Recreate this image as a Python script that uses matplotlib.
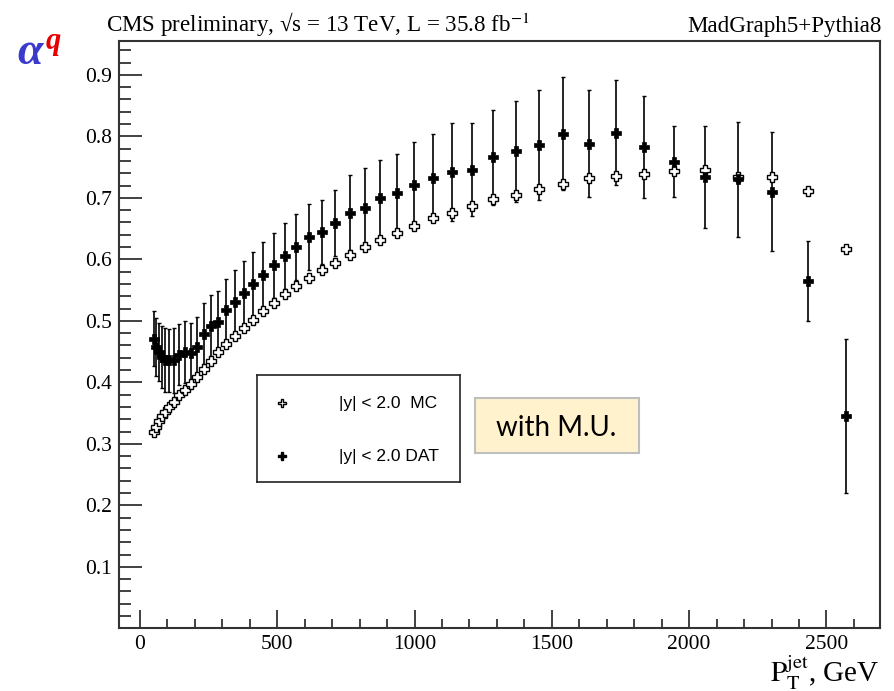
import matplotlib
matplotlib.use('Agg')
import matplotlib.pyplot as plt
from matplotlib.patches import Rectangle
from matplotlib.ticker import MultipleLocator

# ---- data ----
pt = [52.5, 60, 69, 79, 90.5, 105.5, 123.5, 143, 163.5, 185, 208, 232.5, 258.5,
      286, 315, 346, 378.5, 412.5, 449, 487.5, 527.5, 570, 615, 662, 711.5, 763.5,
      818, 875.5, 936, 999.5, 1066.5, 1136.5, 1210, 1287.5, 1368.5, 1453.5, 1542.5,
      1636, 1734, 1837, 1945, 2058, 2177, 2302, 2433, 2570]

mc = [0.319, 0.328, 0.337, 0.345, 0.352, 0.360, 0.368, 0.379, 0.388, 0.398, 0.408,
      0.421, 0.434, 0.449, 0.462, 0.475, 0.489, 0.502, 0.516, 0.529, 0.543, 0.557,
      0.569, 0.582, 0.594, 0.607, 0.620, 0.631, 0.643, 0.654, 0.667, 0.676, 0.686,
      0.698, 0.705, 0.714, 0.722, 0.732, 0.736, 0.739, 0.744, 0.746, 0.734, 0.734,
      0.711, 0.616]

dat = [0.471, 0.457, 0.449, 0.441, 0.437, 0.436, 0.436, 0.445, 0.449, 0.447, 0.457,
       0.479, 0.492, 0.498, 0.518, 0.531, 0.545, 0.560, 0.575, 0.590, 0.605, 0.620,
       0.636, 0.645, 0.659, 0.676, 0.684, 0.700, 0.708, 0.721, 0.732, 0.742, 0.746,
       0.766, 0.776, 0.786, 0.804, 0.788, 0.806, 0.783, 0.759, 0.734, 0.730, 0.710,
       0.564, 0.345]

dat_err = [0.045, 0.047, 0.047, 0.050, 0.052, 0.051, 0.053, 0.050, 0.050, 0.050, 0.050,
           0.050, 0.050, 0.050, 0.050, 0.052, 0.052, 0.052, 0.053, 0.053, 0.054, 0.054,
           0.054, 0.052, 0.054, 0.061, 0.064, 0.062, 0.064, 0.069, 0.071, 0.080, 0.076,
           0.077, 0.082, 0.090, 0.092, 0.087, 0.085, 0.083, 0.058, 0.083, 0.093, 0.097,
           0.065, 0.125]

x_ticks = [0, 500, 1000, 1500, 2000, 2500]
y_ticks = [0.1, 0.2, 0.3, 0.4, 0.5, 0.6, 0.7, 0.8, 0.9]
legend_labels = ['|y| < 2.0  MC', '|y| < 2.0 DAT']

plt.rcParams['mathtext.fontset'] = 'stix'
SERIF = ['Liberation Serif', 'DejaVu Serif']
SANS = ['Liberation Sans', 'DejaVu Sans']

W, H = 894, 691
fig = plt.figure(figsize=(W / 100, H / 100), dpi=100)

def fx(px):
    return px / W

def fy(py):
    return (H - py) / H

ax = fig.add_axes([fx(119.3), fy(628.3), fx(880) - fx(119.3), fy(41) - fy(628.3)])
ax.set_xlim(-75, 2695)
ax.set_ylim(0, 0.955)

frame_col = '#333333'
for s in ax.spines.values():
    s.set_color(frame_col)
    s.set_linewidth(1.5)

ax.errorbar(pt, dat, yerr=dat_err, fmt='none', ecolor='black', elinewidth=1.2,
            capsize=1.6, capthick=1.0, zorder=2)
ax.plot(pt, mc, linestyle='none', marker='P', markersize=7.8,
        markerfacecolor='white', markeredgecolor='black', markeredgewidth=1.0, zorder=3)
ax.plot(pt, dat, linestyle='none', marker='P', markersize=7.3,
        markerfacecolor='black', markeredgecolor='black', markeredgewidth=0.5, zorder=4)

ax.set_xticks(x_ticks)
ax.set_xticklabels([str(v) for v in x_ticks])
ax.set_yticks(y_ticks)
ax.set_yticklabels([f'{v:.1f}' for v in y_ticks])
ax.xaxis.set_minor_locator(MultipleLocator(100))
ax.yaxis.set_minor_locator(MultipleLocator(0.02))
ax.tick_params(axis='both', which='both', direction='in', top=False, right=False,
               color=frame_col, width=1.3)
ax.tick_params(axis='x', which='major', length=12.7, pad=5)
ax.tick_params(axis='x', which='minor', length=6.5)
ax.tick_params(axis='y', which='major', length=16.5, pad=5)
ax.tick_params(axis='y', which='minor', length=8.4)
for lab in ax.get_xticklabels() + ax.get_yticklabels():
    lab.set_fontfamily(SERIF)
    lab.set_fontsize(15.5)

# ---- legend box ----
lx0, lx1, ly0, ly1 = 257.3, 460, 375, 482.3
lax = fig.add_axes([fx(lx0), fy(ly1), fx(lx1) - fx(lx0), fy(ly0) - fy(ly1)])
lax.set_xlim(0, 1)
lax.set_ylim(0, 1)
lax.set_xticks([])
lax.set_yticks([])
for s in lax.spines.values():
    s.set_color('#222222')
    s.set_linewidth(1.2)
lax.plot([0.123], [0.736], linestyle='none', marker='P', markersize=5.5,
         markerfacecolor='white', markeredgecolor='black', markeredgewidth=1.0)
lax.plot([0.123], [0.245], linestyle='none', marker='P', markersize=5.2,
         markerfacecolor='black', markeredgecolor='black')
lax.text(0.405, 0.736, legend_labels[0], va='center', ha='left', fontsize=12.5, family=SANS)
lax.text(0.405, 0.245, legend_labels[1], va='center', ha='left', fontsize=12.5, family=SANS)

# ---- "with M.U." box ----
fig.patches.append(Rectangle((fx(475), fy(452.7)), fx(639.3) - fx(475), fy(398.3) - fy(452.7),
                             transform=fig.transFigure, facecolor='#FFF2CC',
                             edgecolor='#BFBFBF', linewidth=1.5, zorder=5))
fig.text(fx(556.2), fy(435.7), 'with M.U.', ha='center', va='baseline',
         fontsize=20, family=['Lato', 'DejaVu Sans'], zorder=6)

# ---- header texts ----
fig.text(fx(106), fy(32), 'CMS preliminary, √s = 13 TeV, L = 35.8 fb$^{\\mathrm{-1}}$',
         ha='left', va='baseline', fontsize=16.6, family=SERIF)
fig.text(fx(882), fy(32), 'MadGraph5+Pythia8', ha='right', va='baseline',
         fontsize=16.6, family=SERIF)

fig.text(fx(17), fy(64), 'α', ha='left', va='baseline', fontsize=33,
         family=SERIF, weight='bold', style='italic', color='#3a3acc')
fig.text(fx(46), fy(49), 'q', ha='left', va='baseline', fontsize=22,
         family=SERIF, weight='bold', style='italic', color='#e60000')

# ---- x axis title ----
fig.text(fx(880), fy(681.7), r'$\mathrm{P}_{\mathrm{T}}^{\mathrm{jet}}$, GeV', ha='right',
         va='baseline', fontsize=21, family=SERIF)

fig.savefig('out.png', dpi=100)
